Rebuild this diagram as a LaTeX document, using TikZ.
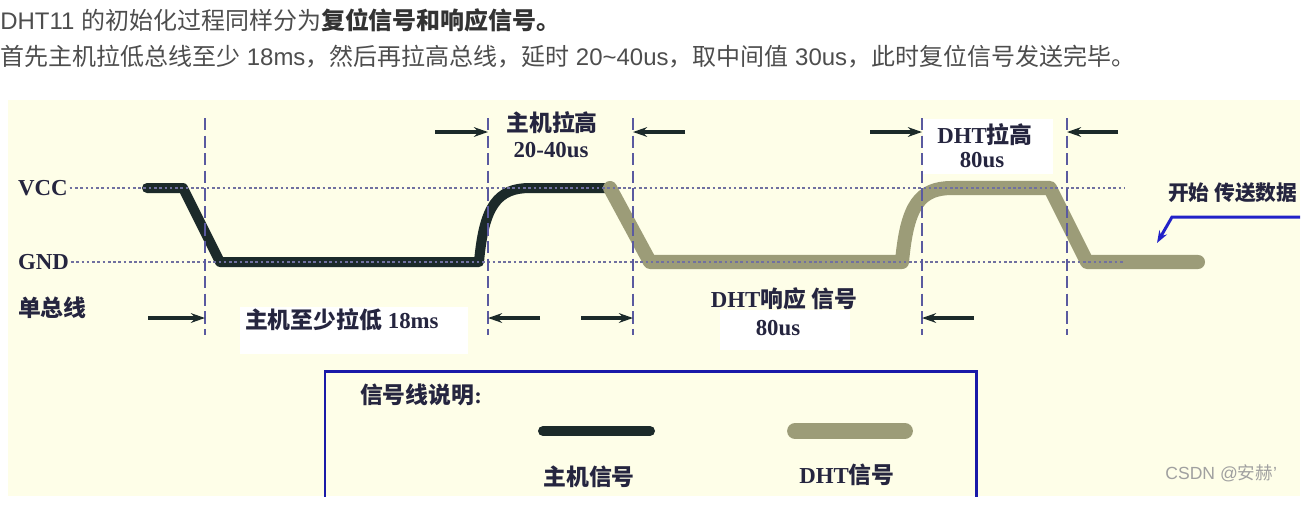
\documentclass[tikz,border=0pt]{standalone}
\usepackage{fontspec}
\setmainfont{Liberation Serif}
\setsansfont{Liberation Sans}
\newfontfamily\zhfont{Noto Sans CJK SC}
\usetikzlibrary{arrows.meta,positioning}

\definecolor{pagetext}{HTML}{4D4D4D}
\definecolor{pagebold}{HTML}{333333}
\definecolor{panelbg}{HTML}{FEFEE8}
\definecolor{hostline}{HTML}{1C2A2A}
\definecolor{dhtline}{HTML}{9C9C78}
\definecolor{levelcol}{HTML}{7070A0}
\definecolor{guidecol}{HTML}{5A5AA0}
\definecolor{lblcol}{HTML}{25253F}
\definecolor{legendblue}{HTML}{1A1AA8}
\definecolor{cueblue}{HTML}{2222C8}
\definecolor{markgray}{HTML}{A0A0A0}

\newcommand{\zh}[1]{{\zhfont #1}}

\begin{document}
\begin{tikzpicture}[x=0.02cm, y=-0.02cm,
    toptext/.style={anchor=west, inner sep=0pt, text=pagetext, font=\sffamily\fontsize{13.65}{16}\selectfont},
    lbl/.style={inner sep=1pt, text=lblcol, align=center, font=\fontsize{13}{15}\selectfont\bfseries},
    patch/.style={rectangle, fill=white, inner sep=0pt},
    level/.style={draw=levelcol, line width=0.7pt, dash pattern=on 1.5pt off 1.5pt},
    guide/.style={draw=guidecol, line width=0.9pt, dash pattern=on 7pt off 3pt},
    dim/.style={draw=hostline, line width=2pt, -{Stealth[length=8pt,width=5.5pt]}},
    hostsig/.style={draw=hostline, line width=5.7pt, line cap=round, line join=round},
    dhtsig/.style={draw=dhtline, line width=8pt, line cap=round, line join=round},
    cue/.style={draw=cueblue, line width=1.7pt, -{Stealth[length=7pt,width=5pt]}},
    legend/.style={draw=legendblue, line width=1.7pt}
]
    \useasboundingbox (0,0) rectangle (1308,512);

    % Page text above the figure
    \node[toptext] (intro) at (0,20) {DHT11 \zh{的初始化过程同样分为}{\color{pagebold}\bfseries\zh{复位信号和响应信号。}}};
    \node[toptext] (resetdesc) at (0,57) {\zh{首先主机拉低总线至少} 18ms\zh{，然后再拉高总线，延时} 20\textasciitilde40us\zh{，取中间值} 30us\zh{，此时复位信号发送完毕。}};

    % Figure panel
    \fill[panelbg] (8,100) rectangle (1300,496);
    \begin{scope}
    \clip (8,100) rectangle (1300,496);

    % White patches behind labels
    \node[patch, minimum width=4.56cm, minimum height=0.94cm] (patchlow) at (354,330) {};
    \node[patch, minimum width=2.6cm, minimum height=0.8cm] (patchresp) at (785,330) {};
    \node[patch, minimum width=2.6cm, minimum height=1.1cm] (patchdht) at (988,146) {};

    % Level names
    \node[lbl, anchor=west] (vcc) at (16,188) {VCC};
    \node[lbl, anchor=west] (gnd) at (16,262) {GND};
    \node[lbl, anchor=west] (bus) at (16,308) {\zh{单总线}};
    \coordinate (vccend) at (1125,188);
    \coordinate (gndend) at (1125,262);

    % Host signal
    \draw[hostsig] (147,188) -- (183,188) -- (220,262) -- (479,262)
        .. controls (484,205) and (498,188) .. (530,188) -- (610,188);

    % DHT signal
    \draw[dhtsig] (610,188) -- (650,262) -- (902,262)
        .. controls (907,205) and (920,188) .. (952,188) -- (1050,188)
        -- (1087,262) -- (1198,262);

    % Level lines
    \draw[level] (vcc) -- (vccend);
    \draw[level] (gnd) -- (gndend);

    % Time marks
    \foreach \x/\n in {205/1,488/2,633/3,922/4,1067/5} {
        \coordinate (t\n) at (\x,118);
        \coordinate (b\n) at (\x,335);
        \draw[guide] (t\n) -- (b\n);
    }

    % Interval arrows, top row
    \coordinate (u1) at (435,132);
    \coordinate (u2) at (685,132);
    \coordinate (u3) at (870,132);
    \coordinate (u4) at (1118,132);
    \draw[dim] (u1) -- (u1 -| t2);
    \draw[dim] (u2) -- (u2 -| t3);
    \draw[dim] (u3) -- (u3 -| t4);
    \draw[dim] (u4) -- (u4 -| t5);

    % Interval arrows, bottom row
    \coordinate (l1) at (148,318);
    \coordinate (l2) at (540,318);
    \coordinate (l3) at (581,318);
    \coordinate (l4) at (974,318);
    \draw[dim] (l1) -- (l1 -| t1);
    \draw[dim] (l2) -- (l2 -| t2);
    \draw[dim] (l3) -- (l3 -| t3);
    \draw[dim] (l4) -- (l4 -| t4);

    % Interval labels
    \node[lbl] (hostup) at (552,123) {\zh{主机拉高}};
    \node[lbl] (hostuptime) at (551,150) {20-40us};
    \node[lbl] (dhtup) at (985,135) {DHT\zh{拉高}};
    \node[lbl] (dhtuptime) at (982,160) {80us};
    \node[lbl, anchor=west] (hostlow) at (243,320) {\zh{主机至少拉低} 18ms};
    \node[lbl] (dhtresp) at (784,299) {DHT\zh{响应 信号}};
    \node[lbl] (dhtresptime) at (778,328) {80us};

    % Start of data
    \node[lbl, anchor=west, font=\fontsize{11.8}{14}\selectfont\bfseries] (datastart) at (1166,193) {\zh{开始 传送数据}};
    \coordinate (cuefrom) at (1300,217);
    \coordinate (cuebend) at (1172,217);
    \coordinate (cuetip) at (1157,243);
    \draw[cue] (cuefrom) -- (cuebend) -- (cuetip);

    % Legend
    \draw[legend] (325,371) rectangle (976,530);
    \node[lbl, anchor=west] (legtitle) at (358,395) {\zh{信号线说明}:};
    \draw[hostsig] (543,431) -- (650,431);
    \draw[dhtsig, line width=9pt] (795,431) -- (905,431);
    \node[lbl] (hostkey) at (589,477) {\zh{主机信号}};
    \node[lbl] (dhtkey) at (847,475) {DHT\zh{信号}};

    % Watermark
    \node[anchor=west, inner sep=0pt, text=markgray, font=\sffamily\fontsize{10}{12}\selectfont] (csdn) at (1165,473) {CSDN @\zh{安赫}'};
    \end{scope}
\end{tikzpicture}
\end{document}
